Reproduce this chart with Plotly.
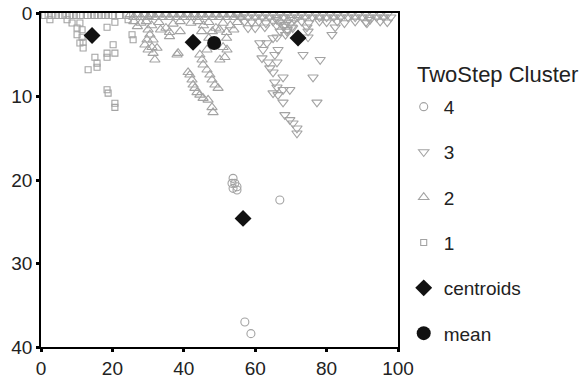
import plotly.graph_objects as go

# Cluster 1 (squares)
c1_x = [1, 2, 3, 4, 5, 6, 7, 8, 9, 10, 11, 13, 14, 15, 16, 17, 18, 19, 20, 22, 24,
        2.5, 7.3, 8.7, 10.9, 10.1, 11.5, 18.5, 20.7, 24.4, 10.1, 11.5, 10.9, 11.8, 11.8,
        13.2, 15.1, 15.7, 15.7, 18.5, 18.5, 20.2, 20.7, 18.5, 18.8, 20.7, 20.7, 25.5, 25.8, 30.5]
c1_y = [0.3, 0.3, 0.3, 0.3, 0.3, 0.3, 0.3, 0.3, 0.3, 0.3, 0.3, 0.3, 0.3, 0.3, 0.3, 0.3, 0.3, 0.3, 0.3, 0.3, 0.3,
        0.8, 0.8, 1.2, 1.2, 1.8, 2.0, 1.7, 1.1, 0.8, 2.6, 2.9, 3.6, 3.5, 4.2,
        6.8, 5.3, 6.0, 6.5, 5.3, 4.8, 3.8, 4.8, 9.2, 9.6, 10.8, 11.3, 2.6, 3.2, 0.3]

# Cluster 2 (up triangles)
c2_x = [25, 26, 27, 28, 29, 30, 31, 32, 33, 34, 35, 36, 37, 38, 39, 40, 41, 42, 43, 44,
        45, 46, 47, 48, 49, 50, 51, 52, 53, 54, 55, 56,
        26, 28, 29.5, 31, 33, 35, 37, 39, 42, 44, 45.5, 47, 49, 51, 53, 55,
        27, 30, 33.5, 36, 39, 45, 48, 50, 52, 54, 36, 47, 52,
        30.5, 29.7, 31.4, 29.1, 31.1, 32.5, 30.0, 31.4, 31.9, 38.4, 38.1,
        44.5, 45.1, 45.4, 46.5, 47.3, 47.9, 48.7, 49.6,
        41.2, 41.7, 42.3, 42.6, 43.1, 43.7, 44.5, 45.4, 46.8, 47.9, 48.2,
        50.1, 51.5, 52.1, 51.0, 46.5]
c2_y = [0.2, 0.5, 0.2, 0.5, 0.2, 0.5, 0.2, 0.5, 0.2, 0.5, 0.2, 0.5, 0.2, 0.5, 0.2, 0.5, 0.2, 0.5, 0.2, 0.5,
        0.2, 0.5, 0.2, 0.5, 0.2, 0.5, 0.2, 0.5, 0.2, 0.5, 0.2, 0.5,
        1.0, 1.2, 1.0, 1.5, 1.1, 1.8, 1.3, 1.0, 1.2, 1.0, 1.5, 1.1, 1.8, 1.2, 1.5, 1.1,
        1.6, 2.0, 2.0, 2.3, 2.2, 2.2, 2.2, 2.0, 2.3, 2.0, 2.8, 3.0, 3.0,
        2.6, 3.2, 3.2, 3.8, 4.1, 4.2, 4.4, 4.8, 5.6, 4.8, 5.0,
        5.0, 5.6, 6.2, 6.8, 7.4, 8.0, 8.6, 9.0,
        7.1, 7.4, 8.0, 8.6, 9.0, 9.5, 9.8, 10.2, 10.4, 11.3, 11.9,
        5.6, 5.3, 4.4, 4.1, 4.4]

# Cluster 3 (down triangles)
c3_x = [55, 56, 57, 58, 59, 60, 61, 62, 63, 64, 65, 66, 67, 68, 69, 70, 71, 72, 73, 74, 75, 76,
        77, 78, 79, 80, 81, 82, 83, 84, 85, 86, 87, 88, 89, 90, 91, 92, 93, 94, 95, 96, 97, 98,
        57, 59, 61, 63, 65, 69, 73, 75, 78, 80, 83, 85, 88, 91, 92.2, 95, 97,
        66, 67, 68, 69, 70, 71, 68, 66, 70.5, 67, 68.5,
        58, 60, 62.7, 68.3, 68.9, 70.3, 74.5, 74.8, 74.8, 81.5, 82.4, 91.3,
        61.3, 62.2, 63.3, 61.9, 63.6, 65.5, 66.1, 64.1, 65.0, 67.8, 65.5, 66.1, 65.0,
        66.4, 67.8, 69.7, 67.8, 68.3, 69.7, 70.6, 71.7, 71.7, 73.4, 78.2, 76.2, 77.3,
        66.1, 65.0, 66.4]
c3_y = [0.2, 0.5, 0.2, 0.5, 0.2, 0.5, 0.2, 0.5, 0.2, 0.5, 0.2, 0.5, 0.2, 0.5, 0.2, 0.5, 0.2, 0.5, 0.2, 0.5, 0.2, 0.5,
        0.2, 0.5, 0.2, 0.5, 0.2, 0.5, 0.2, 0.5, 0.2, 0.5, 0.2, 0.5, 0.2, 0.5, 0.2, 0.5, 0.2, 0.5, 0.2, 0.5, 0.2, 0.5,
        1.0, 1.1, 1.0, 1.2, 1.0, 1.1, 1.0, 1.2, 1.0, 1.1, 1.0, 1.2, 1.0, 1.1, 0.8, 1.0, 1.1,
        0.8, 1.2, 1.6, 2.0, 1.2, 0.8, 0.5, 1.5, 1.8, 2.2, 2.6,
        1.8, 1.8, 1.7, 1.4, 2.2, 1.7, 1.7, 2.2, 2.9, 2.6, 1.7, 1.2,
        3.6, 4.4, 3.6, 5.4, 5.9, 5.0, 5.9, 6.6, 7.1, 7.7, 8.3, 8.9, 9.6,
        9.8, 9.2, 9.2, 10.7, 12.2, 12.8, 13.2, 13.8, 14.4, 5.0, 5.6, 7.7, 10.7,
        2.9, 3.0, 4.4]

# Cluster 4 (circles)
c4_x = [53.8, 53.5, 54.3, 54.9, 53.8, 54.9, 66.9, 57.1, 58.8]
c4_y = [19.8, 20.4, 20.4, 20.8, 21.0, 21.2, 22.4, 37.0, 38.4]

# Centroids and mean
cen_x = [14.3, 42.6, 72.0, 56.6]
cen_y = [2.7, 3.5, 3.0, 24.6]
mean_x = [48.5]
mean_y = [3.6]

x_ticks = [0, 20, 40, 60, 80, 100]
y_ticks = [0, 10, 20, 30, 40]
legend_title = "TwoStep Cluster"

GRAY = "#a3a3a3"
fig = go.Figure()
fig.add_trace(go.Scatter(x=c1_x, y=c1_y, mode="markers", name="1", legendrank=4, legendgroup="1",
                         marker=dict(symbol="square-open", size=6, color=GRAY, line=dict(width=1.1, color=GRAY))))
fig.add_trace(go.Scatter(x=c2_x, y=c2_y, mode="markers", name="2", legendrank=3, legendgroup="2",
                         marker=dict(symbol="triangle-up-open", size=9, color=GRAY, line=dict(width=1.1, color=GRAY))))
fig.add_trace(go.Scatter(x=c3_x, y=c3_y, mode="markers", name="3", legendrank=2, legendgroup="3",
                         marker=dict(symbol="triangle-down-open", size=9, color=GRAY, line=dict(width=1.1, color=GRAY))))
fig.add_trace(go.Scatter(x=c4_x, y=c4_y, mode="markers", name="4", legendrank=1, legendgroup="4",
                         marker=dict(symbol="circle-open", size=8, color=GRAY, line=dict(width=1.1, color=GRAY))))
fig.add_trace(go.Scatter(x=cen_x, y=cen_y, mode="markers", name="centroids", legendrank=5, legendgroup="5",
                         marker=dict(symbol="diamond", size=13, color="#111111")))
fig.add_trace(go.Scatter(x=mean_x, y=mean_y, mode="markers", name="mean", legendrank=6, legendgroup="6",
                         marker=dict(symbol="circle", size=14, color="#111111")))

axis_common = dict(showline=True, linecolor="black", linewidth=1.5, mirror=True,
                   showgrid=False, zeroline=False, ticks="outside", ticklen=3, tickwidth=3,
                   tickcolor="black", tickfont=dict(size=19, color="#222222"))
fig.update_xaxes(range=[0, 100], tickvals=x_ticks, automargin=False, **axis_common)
fig.update_yaxes(range=[40, 0], tickvals=y_ticks, automargin=False, **axis_common)

fig.add_annotation(text=legend_title, xref="paper", yref="paper", x=1.048, y=0.815,
                   xanchor="left", yanchor="middle", showarrow=False,
                   font=dict(size=22, color="#222222"))

fig.update_layout(
    width=581, height=383,
    margin=dict(l=41, r=183, t=13, b=36, autoexpand=False),
    plot_bgcolor="white", paper_bgcolor="white",
    font=dict(family="Liberation Sans, Arial, sans-serif", color="#222222"),
    legend=dict(x=1.016, y=0.776, xanchor="left", yanchor="top", maxheight=1,
                font=dict(size=19, color="#222222"), tracegroupgap=17.6,
                itemsizing="trace", bgcolor="rgba(0,0,0,0)"),
)
fig.write_html("out.html")
